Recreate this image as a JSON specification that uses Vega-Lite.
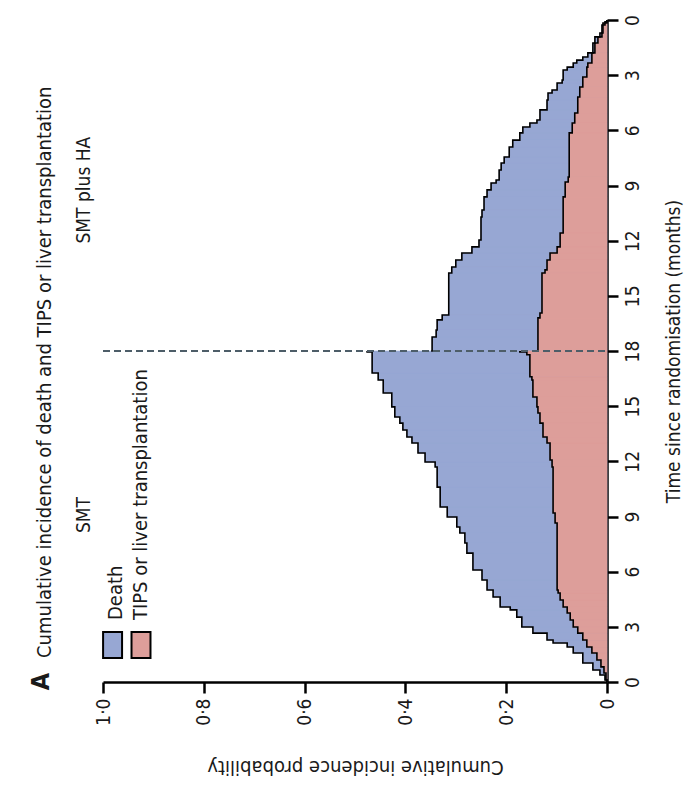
{
  "$schema": "https://vega.github.io/schema/vega-lite/v6.json",
  "width": 504,
  "height": 662,
  "autosize": {"type": "none"},
  "padding": {"left": 103, "top": 20, "right": 91, "bottom": 116},
  "background": "white",
  "config": {"view": {"stroke": null}, "font": "DejaVu Sans Condensed, Lato, sans-serif"},
  "title": {"text": "Cumulative incidence of death and TIPS or liver transplantation", "orient": "left", "anchor": "start", "frame": "group", "offset": -26, "dx": 24, "fontSize": 20, "font": "DejaVu Sans Condensed, Lato, sans-serif", "fontWeight": "normal", "color": "#1a1a1a"},
  "datasets": {
    "curves": [
      {"group": "SMT", "series": "total", "month": 0, "p": 0},
      {"group": "SMT", "series": "total", "month": 0.11, "p": 0.004},
      {"group": "SMT", "series": "total", "month": 0.38, "p": 0.014},
      {"group": "SMT", "series": "total", "month": 0.65, "p": 0.028},
      {"group": "SMT", "series": "total", "month": 1.03, "p": 0.048},
      {"group": "SMT", "series": "total", "month": 1.58, "p": 0.067},
      {"group": "SMT", "series": "total", "month": 1.9, "p": 0.079},
      {"group": "SMT", "series": "total", "month": 2.12, "p": 0.107},
      {"group": "SMT", "series": "total", "month": 2.28, "p": 0.119},
      {"group": "SMT", "series": "total", "month": 2.66, "p": 0.147},
      {"group": "SMT", "series": "total", "month": 2.99, "p": 0.169},
      {"group": "SMT", "series": "total", "month": 3.53, "p": 0.179},
      {"group": "SMT", "series": "total", "month": 3.92, "p": 0.192},
      {"group": "SMT", "series": "total", "month": 4.08, "p": 0.212},
      {"group": "SMT", "series": "total", "month": 4.62, "p": 0.226},
      {"group": "SMT", "series": "total", "month": 5.0, "p": 0.238},
      {"group": "SMT", "series": "total", "month": 5.55, "p": 0.248},
      {"group": "SMT", "series": "total", "month": 6.09, "p": 0.266},
      {"group": "SMT", "series": "total", "month": 7.01, "p": 0.278},
      {"group": "SMT", "series": "total", "month": 7.56, "p": 0.282},
      {"group": "SMT", "series": "total", "month": 8.1, "p": 0.292},
      {"group": "SMT", "series": "total", "month": 8.43, "p": 0.298},
      {"group": "SMT", "series": "total", "month": 8.97, "p": 0.317},
      {"group": "SMT", "series": "total", "month": 9.52, "p": 0.331},
      {"group": "SMT", "series": "total", "month": 10.6, "p": 0.337},
      {"group": "SMT", "series": "total", "month": 11.69, "p": 0.341},
      {"group": "SMT", "series": "total", "month": 11.96, "p": 0.361},
      {"group": "SMT", "series": "total", "month": 12.45, "p": 0.375},
      {"group": "SMT", "series": "total", "month": 13.0, "p": 0.387},
      {"group": "SMT", "series": "total", "month": 13.32, "p": 0.397},
      {"group": "SMT", "series": "total", "month": 13.7, "p": 0.405},
      {"group": "SMT", "series": "total", "month": 14.08, "p": 0.411},
      {"group": "SMT", "series": "total", "month": 14.41, "p": 0.421},
      {"group": "SMT", "series": "total", "month": 14.96, "p": 0.427},
      {"group": "SMT", "series": "total", "month": 15.72, "p": 0.444},
      {"group": "SMT", "series": "total", "month": 16.42, "p": 0.454},
      {"group": "SMT", "series": "total", "month": 16.8, "p": 0.466},
      {"group": "SMT", "series": "total", "month": 17.95, "p": 0.476},
      {"group": "SMT", "series": "total", "month": 18, "p": 0.476},

      {"group": "SMT", "series": "tips", "month": 0, "p": 0},
      {"group": "SMT", "series": "tips", "month": 0.11, "p": 0.002},
      {"group": "SMT", "series": "tips", "month": 0.49, "p": 0.006},
      {"group": "SMT", "series": "tips", "month": 0.82, "p": 0.012},
      {"group": "SMT", "series": "tips", "month": 1.2, "p": 0.02},
      {"group": "SMT", "series": "tips", "month": 1.58, "p": 0.03},
      {"group": "SMT", "series": "tips", "month": 1.9, "p": 0.04},
      {"group": "SMT", "series": "tips", "month": 2.28, "p": 0.048},
      {"group": "SMT", "series": "tips", "month": 2.66, "p": 0.058},
      {"group": "SMT", "series": "tips", "month": 2.99, "p": 0.067},
      {"group": "SMT", "series": "tips", "month": 3.37, "p": 0.073},
      {"group": "SMT", "series": "tips", "month": 3.75, "p": 0.079},
      {"group": "SMT", "series": "tips", "month": 4.08, "p": 0.087},
      {"group": "SMT", "series": "tips", "month": 4.46, "p": 0.093},
      {"group": "SMT", "series": "tips", "month": 4.84, "p": 0.097},
      {"group": "SMT", "series": "tips", "month": 5.0, "p": 0.099},
      {"group": "SMT", "series": "tips", "month": 8.65, "p": 0.103},
      {"group": "SMT", "series": "tips", "month": 9.19, "p": 0.107},
      {"group": "SMT", "series": "tips", "month": 11.69, "p": 0.109},
      {"group": "SMT", "series": "tips", "month": 12.07, "p": 0.113},
      {"group": "SMT", "series": "tips", "month": 13.0, "p": 0.119},
      {"group": "SMT", "series": "tips", "month": 13.32, "p": 0.127},
      {"group": "SMT", "series": "tips", "month": 14.08, "p": 0.133},
      {"group": "SMT", "series": "tips", "month": 14.63, "p": 0.137},
      {"group": "SMT", "series": "tips", "month": 14.96, "p": 0.139},
      {"group": "SMT", "series": "tips", "month": 15.5, "p": 0.147},
      {"group": "SMT", "series": "tips", "month": 16.42, "p": 0.149},
      {"group": "SMT", "series": "tips", "month": 16.6, "p": 0.153},
      {"group": "SMT", "series": "tips", "month": 17.8, "p": 0.159},
      {"group": "SMT", "series": "tips", "month": 17.95, "p": 0.173},
      {"group": "SMT", "series": "tips", "month": 18, "p": 0.173},

      {"group": "HA", "series": "total", "month": 0, "p": 0},
      {"group": "HA", "series": "total", "month": 0.1, "p": 0.004},
      {"group": "HA", "series": "total", "month": 0.27, "p": 0.01},
      {"group": "HA", "series": "total", "month": 0.71, "p": 0.014},
      {"group": "HA", "series": "total", "month": 0.92, "p": 0.024},
      {"group": "HA", "series": "total", "month": 1.25, "p": 0.028},
      {"group": "HA", "series": "total", "month": 1.79, "p": 0.038},
      {"group": "HA", "series": "total", "month": 2.01, "p": 0.048},
      {"group": "HA", "series": "total", "month": 2.18, "p": 0.06},
      {"group": "HA", "series": "total", "month": 2.34, "p": 0.067},
      {"group": "HA", "series": "total", "month": 2.56, "p": 0.079},
      {"group": "HA", "series": "total", "month": 2.72, "p": 0.087},
      {"group": "HA", "series": "total", "month": 3.26, "p": 0.089},
      {"group": "HA", "series": "total", "month": 3.43, "p": 0.099},
      {"group": "HA", "series": "total", "month": 3.81, "p": 0.109},
      {"group": "HA", "series": "total", "month": 3.97, "p": 0.117},
      {"group": "HA", "series": "total", "month": 4.35, "p": 0.119},
      {"group": "HA", "series": "total", "month": 4.89, "p": 0.133},
      {"group": "HA", "series": "total", "month": 5.44, "p": 0.139},
      {"group": "HA", "series": "total", "month": 5.6, "p": 0.153},
      {"group": "HA", "series": "total", "month": 5.82, "p": 0.167},
      {"group": "HA", "series": "total", "month": 6.14, "p": 0.173},
      {"group": "HA", "series": "total", "month": 6.53, "p": 0.187},
      {"group": "HA", "series": "total", "month": 6.91, "p": 0.194},
      {"group": "HA", "series": "total", "month": 7.45, "p": 0.204},
      {"group": "HA", "series": "total", "month": 7.78, "p": 0.21},
      {"group": "HA", "series": "total", "month": 8.16, "p": 0.214},
      {"group": "HA", "series": "total", "month": 8.7, "p": 0.22},
      {"group": "HA", "series": "total", "month": 8.86, "p": 0.23},
      {"group": "HA", "series": "total", "month": 9.24, "p": 0.238},
      {"group": "HA", "series": "total", "month": 9.62, "p": 0.244},
      {"group": "HA", "series": "total", "month": 10.33, "p": 0.248},
      {"group": "HA", "series": "total", "month": 10.71, "p": 0.25},
      {"group": "HA", "series": "total", "month": 11.96, "p": 0.254},
      {"group": "HA", "series": "total", "month": 12.34, "p": 0.268},
      {"group": "HA", "series": "total", "month": 12.67, "p": 0.288},
      {"group": "HA", "series": "total", "month": 13.05, "p": 0.3},
      {"group": "HA", "series": "total", "month": 13.43, "p": 0.308},
      {"group": "HA", "series": "total", "month": 13.76, "p": 0.314},
      {"group": "HA", "series": "total", "month": 16.04, "p": 0.327},
      {"group": "HA", "series": "total", "month": 16.31, "p": 0.337},
      {"group": "HA", "series": "total", "month": 16.86, "p": 0.339},
      {"group": "HA", "series": "total", "month": 17.24, "p": 0.347},
      {"group": "HA", "series": "total", "month": 18, "p": 0.349},

      {"group": "HA", "series": "tips", "month": 0, "p": 0},
      {"group": "HA", "series": "tips", "month": 0.16, "p": 0.008},
      {"group": "HA", "series": "tips", "month": 0.71, "p": 0.01},
      {"group": "HA", "series": "tips", "month": 0.92, "p": 0.018},
      {"group": "HA", "series": "tips", "month": 1.25, "p": 0.024},
      {"group": "HA", "series": "tips", "month": 1.79, "p": 0.03},
      {"group": "HA", "series": "tips", "month": 2.34, "p": 0.038},
      {"group": "HA", "series": "tips", "month": 2.56, "p": 0.04},
      {"group": "HA", "series": "tips", "month": 3.1, "p": 0.048},
      {"group": "HA", "series": "tips", "month": 3.64, "p": 0.054},
      {"group": "HA", "series": "tips", "month": 4.19, "p": 0.058},
      {"group": "HA", "series": "tips", "month": 5.06, "p": 0.064},
      {"group": "HA", "series": "tips", "month": 5.6, "p": 0.069},
      {"group": "HA", "series": "tips", "month": 6.14, "p": 0.075},
      {"group": "HA", "series": "tips", "month": 8.54, "p": 0.077},
      {"group": "HA", "series": "tips", "month": 8.81, "p": 0.083},
      {"group": "HA", "series": "tips", "month": 9.62, "p": 0.087},
      {"group": "HA", "series": "tips", "month": 11.58, "p": 0.093},
      {"group": "HA", "series": "tips", "month": 12.34, "p": 0.099},
      {"group": "HA", "series": "tips", "month": 12.67, "p": 0.113},
      {"group": "HA", "series": "tips", "month": 13.05, "p": 0.119},
      {"group": "HA", "series": "tips", "month": 13.59, "p": 0.123},
      {"group": "HA", "series": "tips", "month": 13.76, "p": 0.129},
      {"group": "HA", "series": "tips", "month": 15.93, "p": 0.133},
      {"group": "HA", "series": "tips", "month": 16.2, "p": 0.137},
      {"group": "HA", "series": "tips", "month": 18, "p": 0.139}
    ]
  },
  "layer": [
    {
      "data": {"name": "curves"},
      "transform": [
        {"filter": "datum.series === 'total'"},
        {"window": [{"op": "lead", "field": "month", "as": "next_month"}], "sort": [{"field": "month", "order": "ascending"}], "groupby": ["group"]},
        {"filter": "isValid(datum.next_month)"},
        {"calculate": "datum.group === 'SMT' ? datum.month : 36 - datum.month", "as": "pos"},
        {"calculate": "datum.group === 'SMT' ? datum.next_month : 36 - datum.next_month", "as": "pos_next"}
      ],
      "mark": {"type": "rect", "color": "#97a7d3", "stroke": "#97a7d3", "strokeWidth": 0.6, "opacity": 1},
      "encoding": {
        "x": {
          "field": "p", "type": "quantitative", "stack": null,
          "scale": {"domain": [0, 1], "reverse": true, "nice": false},
          "axis": {
            "orient": "bottom", "values": [0, 0.2, 0.4, 0.6, 0.8, 1],
            "labelExpr": "datum.value === 0 ? '0' : replace(format(datum.value, '.1f'), '.', '·')",
            "labelAngle": -90, "labelAlign": "right", "labelBaseline": "middle",
            "labelFontSize": 19, "labelColor": "#1a1a1a", "labelPadding": 5,
            "tickSize": 11, "tickWidth": 2.5, "tickColor": "black",
            "domainColor": "black", "domainWidth": 2.5, "grid": false,
            "title": "Cumulative incidence probability", "titleAngle": 180, "titleBaseline": "bottom",
            "titleFontSize": 20, "titleFontWeight": "normal", "titleColor": "#1a1a1a", "titlePadding": 31
          }
        },
        "x2": {"datum": 0},
        "y": {
          "field": "pos", "type": "quantitative",
          "scale": {"domain": [0, 36], "nice": false, "zero": false},
          "axis": {
            "orient": "right", "values": [0, 3, 6, 9, 12, 15, 18, 21, 24, 27, 30, 33, 36],
            "labelExpr": "datum.value > 18 ? format(36 - datum.value, 'd') : format(datum.value, 'd')",
            "labelAngle": -90, "labelAlign": "center", "labelBaseline": "top",
            "labelFontSize": 19, "labelColor": "#1a1a1a", "labelPadding": 5,
            "tickSize": 11, "tickWidth": 2.5, "tickColor": "black",
            "domainColor": "black", "domainWidth": 2.5, "grid": false,
            "title": "Time since randomisation (months)", "titleAngle": -90, "titleBaseline": "top",
            "titleFontSize": 19, "titleFontWeight": "normal", "titleColor": "#1a1a1a", "titlePadding": 22
          }
        },
        "y2": {"field": "pos_next"}
      }
    },
    {
      "data": {"name": "curves"},
      "transform": [
        {"filter": "datum.series === 'tips'"},
        {"window": [{"op": "lead", "field": "month", "as": "next_month"}], "sort": [{"field": "month", "order": "ascending"}], "groupby": ["group"]},
        {"filter": "isValid(datum.next_month)"},
        {"calculate": "datum.group === 'SMT' ? datum.month : 36 - datum.month", "as": "pos"},
        {"calculate": "datum.group === 'SMT' ? datum.next_month : 36 - datum.next_month", "as": "pos_next"}
      ],
      "mark": {"type": "rect", "color": "#dd9e9a", "stroke": "#dd9e9a", "strokeWidth": 0.6, "opacity": 1},
      "encoding": {
        "x": {"field": "p", "type": "quantitative", "stack": null},
        "x2": {"datum": 0},
        "y": {"field": "pos", "type": "quantitative"},
        "y2": {"field": "pos_next"}
      }
    },
    {
      "data": {"name": "curves"},
      "transform": [
        {"filter": "datum.group === 'SMT'"},
        {"calculate": "datum.month", "as": "pos"}
      ],
      "mark": {"type": "line", "interpolate": "step-before", "color": "black", "strokeWidth": 1.6},
      "encoding": {
        "x": {"field": "p", "type": "quantitative"},
        "y": {"field": "pos", "type": "quantitative"},
        "detail": {"field": "series"},
        "order": {"field": "pos", "type": "quantitative"}
      }
    },
    {
      "data": {"name": "curves"},
      "transform": [
        {"filter": "datum.group === 'HA'"},
        {"calculate": "36 - datum.month", "as": "pos"}
      ],
      "mark": {"type": "line", "interpolate": "step-after", "color": "black", "strokeWidth": 1.6},
      "encoding": {
        "x": {"field": "p", "type": "quantitative"},
        "y": {"field": "pos", "type": "quantitative"},
        "detail": {"field": "series"},
        "order": {"field": "pos", "type": "quantitative"}
      }
    },
    {
      "data": {"values": [{}]},
      "mark": {"type": "rule", "color": "#4d5d68", "strokeWidth": 2, "strokeDash": [7, 4]},
      "encoding": {"x": {"datum": 1}, "x2": {"datum": 0}, "y": {"datum": 18}}
    },
    {
      "data": {"values": [{}]},
      "mark": {"type": "text", "text": "A", "angle": -90, "align": "left", "baseline": "alphabetic", "fontSize": 25, "fontWeight": "bold", "color": "#1a1a1a"},
      "encoding": {"x": {"datum": 1.108}, "y": {"datum": -0.45}}
    },
    {
      "data": {"values": [{}]},
      "mark": {"type": "text", "text": "SMT", "angle": -90, "align": "center", "baseline": "middle", "fontSize": 19, "color": "#1a1a1a"},
      "encoding": {"x": {"datum": 1.038}, "y": {"datum": 9.08}}
    },
    {
      "data": {"values": [{}]},
      "mark": {"type": "text", "text": "SMT plus HA", "angle": -90, "align": "center", "baseline": "middle", "fontSize": 19, "color": "#1a1a1a"},
      "encoding": {"x": {"datum": 1.038}, "y": {"datum": 26.75}}
    },
    {
      "data": {"values": [{}]},
      "mark": {"type": "point", "shape": "M-0.73,-1L0.73,-1L0.73,1L-0.73,1Z", "size": 676, "filled": true, "fill": "#97a7d3", "stroke": "black", "strokeWidth": 2, "opacity": 1},
      "encoding": {"x": {"datum": 0.981}, "y": {"datum": 2.01}}
    },
    {
      "data": {"values": [{}]},
      "mark": {"type": "point", "shape": "M-0.73,-1L0.73,-1L0.73,1L-0.73,1Z", "size": 676, "filled": true, "fill": "#dd9e9a", "stroke": "black", "strokeWidth": 2, "opacity": 1},
      "encoding": {"x": {"datum": 0.9246}, "y": {"datum": 2.01}}
    },
    {
      "data": {"values": [{}]},
      "mark": {"type": "text", "text": "Death", "angle": -90, "align": "left", "baseline": "alphabetic", "fontSize": 20, "color": "#1a1a1a"},
      "encoding": {"x": {"datum": 0.962}, "y": {"datum": 3.37}}
    },
    {
      "data": {"values": [{}]},
      "mark": {"type": "text", "text": "TIPS or liver transplantation", "angle": -90, "align": "left", "baseline": "alphabetic", "fontSize": 20, "color": "#1a1a1a"},
      "encoding": {"x": {"datum": 0.9127}, "y": {"datum": 3.37}}
    }
  ]
}
